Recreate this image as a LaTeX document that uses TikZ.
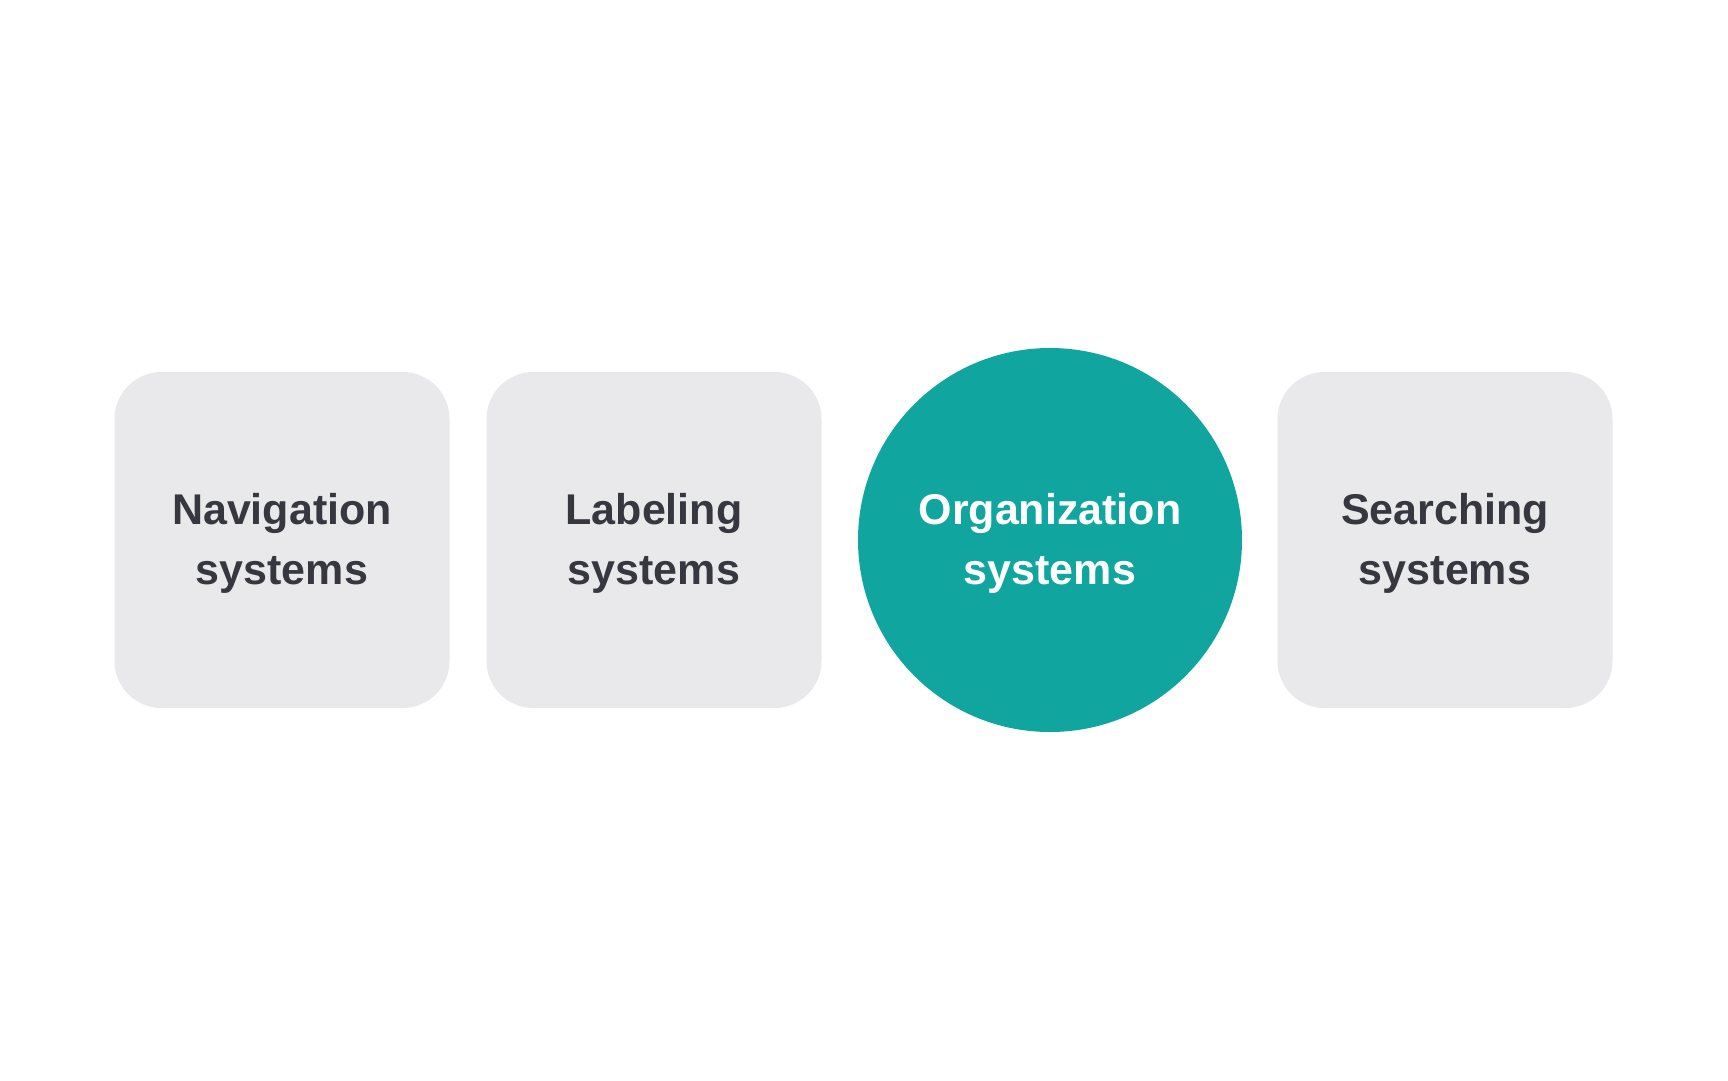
\documentclass[tikz,border=0pt]{standalone}
\usepackage{fontspec}
\setmainfont{Liberation Sans}
\definecolor{boxgray}{HTML}{E9E9EB}
\definecolor{teal}{HTML}{10A59F}
\definecolor{ink}{HTML}{36373F}
\newcommand{\topstrut}{\rule{0pt}{37pt}}
\begin{document}
\begin{tikzpicture}[x=1pt,y=-1pt,
  card/.style={fill=boxgray, rounded corners=47pt, minimum width=335pt, minimum height=336pt,
    text=ink, font=\fontsize{43}{60}\selectfont\bfseries, align=center, inner sep=0pt},
  focus/.style={circle, fill=teal, minimum size=384pt, text=white,
    font=\fontsize{43}{60}\selectfont\bfseries, align=center, inner sep=0pt}]
\useasboundingbox[fill=white] (0,0) rectangle (1728,1080);
\node[card] (nav) at (282,540) {\topstrut Navigation\\systems};
\node[card] (lab) at (654,540) {\topstrut Labeling\\systems};
\node[focus] (org) at (1050,540) {\topstrut Organization\\systems};
\node[card] (sea) at (1445,540) {\topstrut Searching\\systems};
\end{tikzpicture}
\end{document}
